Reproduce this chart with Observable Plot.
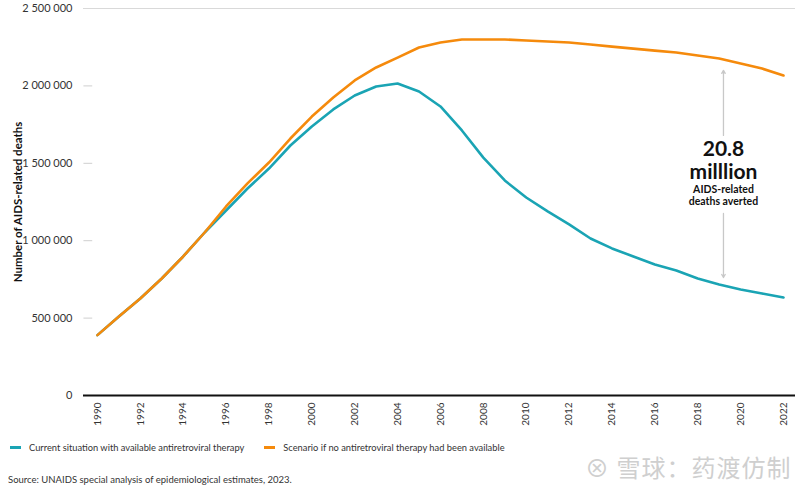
<!DOCTYPE html>
<html>
<head>
<meta charset="utf-8">
<script src="https://cdn.jsdelivr.net/npm/d3@7"></script>
<script src="https://cdn.jsdelivr.net/npm/@observablehq/plot@0.6"></script>
<style>
  body { margin: 0; background: #fff; font-family: Lato, "Open Sans", sans-serif; }
  #wrap { position: relative; width: 800px; height: 491px; }
  .legend { position: absolute; left: 10px; top: 442px; font-size: 9.3px; color: #333; display: flex; gap: 0; }
  .legend span.item { display: inline-flex; align-items: center; margin-right: 20px; }
  .legend i { display: inline-block; width: 11px; height: 3px; margin-right: 8px; }
  .source { position: absolute; left: 8px; top: 474px; font-size: 9.5px; color: #333; }
  .wm { position: absolute; left: 585px; top: 449px; font-size: 24px; color: #cfcfcf; font-family: "Noto Sans CJK SC", sans-serif; letter-spacing: 1px; }
</style>
</head>
<body>
<div id="wrap">
  <div id="chart"></div>
  <div class="legend">
    <span class="item"><i style="background:#1aa4b4"></i>Current situation with available antiretroviral therapy</span>
    <span class="item"><i style="background:#f58a0c"></i>Scenario if no antiretroviral therapy had been available</span>
  </div>
  <div class="source">Source: UNAIDS special analysis of epidemiological estimates, 2023.</div>
  <div class="wm">⊗ 雪球：药渡仿制</div>
</div>
<script>
const years = d3.range(1990, 2023);
const current = [390000, 510000, 627000, 756000, 898000, 1053000, 1195000, 1337000, 1466000, 1615000,
  1738000, 1848000, 1938000, 1996000, 2015000, 1964000, 1867000, 1712000, 1537000, 1389000,
  1279000, 1189000, 1105000, 1014000, 950000, 898000, 846000, 807000, 756000, 717000,
  685000, 659000, 633000];
const noART = [390000, 510000, 627000, 756000, 898000, 1053000, 1221000, 1370000, 1505000, 1660000,
  1802000, 1925000, 2035000, 2119000, 2183000, 2248000, 2280000, 2300000, 2300000, 2300000,
  2293000, 2287000, 2280000, 2267000, 2254000, 2241000, 2228000, 2216000, 2196000, 2177000,
  2145000, 2112000, 2067000];
const yTicks = [0, 500000, 1000000, 1500000, 2000000, 2500000];
const xTicks = d3.range(1990, 2023, 2);
const annotX = 2019.2;
const arrows = [
  {x: annotX, y1: 1680000, y2: 2100000},
  {x: annotX, y1: 1176000, y2: 762000}
];
const labels = [
  {text: "20.8", y: 1592000, size: 21},
  {text: "milllion", y: 1445000, size: 21},
  {text: "AIDS-related", y: 1330000, size: 10.5},
  {text: "deaths averted", y: 1250000, size: 10.5}
];

const rows = years.map((yr, i) => ({year: yr, value: current[i]}));
const rows2 = years.map((yr, i) => ({year: yr, value: noART[i]}));

const fmt = v => d3.format(",")(v).replace(/,/g, " ");

const chart = Plot.plot({
  width: 800,
  height: 432,
  marginLeft: 83,
  marginRight: 5,
  marginTop: 8,
  marginBottom: 37,
  style: {fontFamily: "Lato, 'Open Sans', sans-serif", fontSize: "10px", color: "#333"},
  x: {domain: [1989.35, 2022.56], label: null},
  y: {domain: [0, 2500000], label: null},
  marks: [
    Plot.ruleY([2500000], {stroke: "#d9d9d9", strokeWidth: 1}),
    Plot.ruleY(yTicks.filter(d => d > 0 && d < 2500000), {x1: 1989.37, x2: 1989.78, stroke: "#cfcfcf"}),
    Plot.axisY({ticks: yTicks, tickFormat: fmt, tickSize: 0, tickPadding: 11, fontSize: 11, fill: "#333"}),
    Plot.axisX({ticks: xTicks, tickFormat: d => String(d), tickRotate: -90, tickSize: 0, tickPadding: 7, fontSize: 10, fill: "#333"}),
    Plot.text(["Number of AIDS-related deaths"], {frameAnchor: "left", dx: -65, rotate: -90, textAnchor: "middle", fontWeight: "bold", fontSize: 11.5, fill: "#111"}),
    Plot.arrow(arrows, {x1: "x", x2: "x", y1: "y1", y2: "y2", stroke: "#c8c8c8", strokeWidth: 1.3, headLength: 4}),
    Plot.text(labels, {x: annotX, y: "y", text: "text", fontSize: "size", fontWeight: "bold", fill: "#111", textAnchor: "middle"}),
    Plot.line(rows, {x: "year", y: "value", stroke: "#1aa4b4", strokeWidth: 2.6}),
    Plot.line(rows2, {x: "year", y: "value", stroke: "#f58a0c", strokeWidth: 2.6}),
    Plot.ruleY([0], {stroke: "#111", strokeWidth: 2})
  ]
});
document.getElementById("chart").appendChild(chart);
</script>
</body>
</html>
